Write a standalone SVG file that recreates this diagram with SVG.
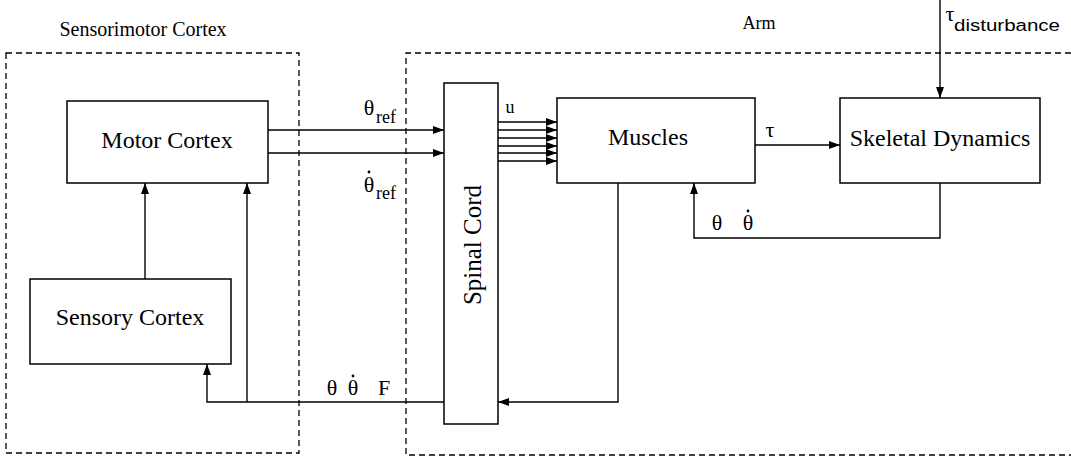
<svg xmlns="http://www.w3.org/2000/svg" width="1071" height="459" viewBox="0 0 1071 459">
<defs>
<style>
.box{fill:#fff;stroke:#000;stroke-width:1.5}
.dash{fill:none;stroke:#000;stroke-width:1.3;stroke-dasharray:6 4}
.ln{fill:none;stroke:#000;stroke-width:1.4}
.lbl{font-family:"Liberation Serif","Times New Roman",serif;fill:#000}
.big{font-size:24px;text-anchor:middle}
.sym{font-size:22px}
.sub{font-size:18px}
</style>
<marker id="ah" markerUnits="userSpaceOnUse" markerWidth="12" markerHeight="8" refX="11" refY="4" orient="auto">
<path d="M0,0 L11,4 L0,8 z" fill="#000"/>
</marker>
</defs>
<rect width="1071" height="459" fill="#fff"/>

<g id="group-sensorimotor">
<rect class="dash" x="6" y="53" width="293" height="400"/>
<text class="lbl" x="143" y="36" font-size="20" text-anchor="middle">Sensorimotor Cortex</text>
</g>
<g id="group-arm">
<path class="dash" d="M1071 53 H406 V455 H1071"/>
<text class="lbl" x="759" y="29" font-size="18" text-anchor="middle">Arm</text>
</g>

<g id="connectors">
<path class="ln" d="M268 130 H444" marker-end="url(#ah)"/>
<path class="ln" d="M268 153 H444" marker-end="url(#ah)"/>
<path class="ln" d="M498 122 H557" marker-end="url(#ah)"/>
<path class="ln" d="M498 130 H557" marker-end="url(#ah)"/>
<path class="ln" d="M498 138 H557" marker-end="url(#ah)"/>
<path class="ln" d="M498 146 H557" marker-end="url(#ah)"/>
<path class="ln" d="M498 153 H557" marker-end="url(#ah)"/>
<path class="ln" d="M498 161 H557" marker-end="url(#ah)"/>
<path class="ln" d="M755 145 H840" marker-end="url(#ah)"/>
<path class="ln" d="M940 0 V98" marker-end="url(#ah)"/>
<path class="ln" d="M940 183 V238 H694 V183" marker-end="url(#ah)"/>
<path class="ln" d="M618 183 V402 H498" marker-end="url(#ah)"/>
<path class="ln" d="M444 402 H207 V364" marker-end="url(#ah)"/>
<path class="ln" d="M247 402 V183" marker-end="url(#ah)"/>
<path class="ln" d="M145 279 V183" marker-end="url(#ah)"/>

<text class="lbl sym" x="369" y="115" text-anchor="middle">θ</text>
<text class="lbl sub" x="376" y="123">ref</text>
<text class="lbl sym" x="369" y="192" text-anchor="middle">θ</text>
<circle cx="369" cy="172" r="1.4"/>
<text class="lbl sub" x="376" y="199">ref</text>
<text class="lbl sub" x="510" y="113" text-anchor="middle">u</text>
<text class="lbl sym" x="770" y="137" text-anchor="middle">τ</text>
<text class="lbl sym" x="950" y="21" text-anchor="middle">τ</text>
<text x="954" y="31" font-family="Liberation Sans, Arial, sans-serif" font-size="16" textLength="106" lengthAdjust="spacingAndGlyphs">disturbance</text>
<text class="lbl sym" x="717" y="230" text-anchor="middle">θ</text>
<text class="lbl sym" x="748" y="230" text-anchor="middle">θ</text>
<circle cx="748" cy="211" r="1.4"/>
<text class="lbl sym" x="332" y="395" text-anchor="middle">θ</text>
<text class="lbl sym" x="353" y="395" text-anchor="middle">θ</text>
<circle cx="353" cy="376" r="1.4"/>
<text class="lbl sym" x="384" y="395" text-anchor="middle">F</text>
</g>

<g id="node-motor-cortex">
<rect class="box" x="67" y="101" width="201" height="82"/>
<text class="lbl big" x="167" y="148">Motor Cortex</text>
</g>
<g id="node-sensory-cortex">
<rect class="box" x="30" y="279" width="201" height="85"/>
<text class="lbl big" x="130" y="325">Sensory Cortex</text>
</g>
<g id="node-spinal-cord">
<rect class="box" x="444" y="83" width="54" height="341"/>
<text class="lbl" font-size="25" text-anchor="middle" transform="translate(481,245) rotate(-90)">Spinal Cord</text>
</g>
<g id="node-muscles">
<rect class="box" x="557" y="98" width="198" height="85"/>
<text class="lbl big" x="648" y="145">Muscles</text>
</g>
<g id="node-skeletal">
<rect class="box" x="840" y="98" width="200" height="85"/>
<text class="lbl big" x="940" y="146">Skeletal Dynamics</text>
</g>
</svg>
